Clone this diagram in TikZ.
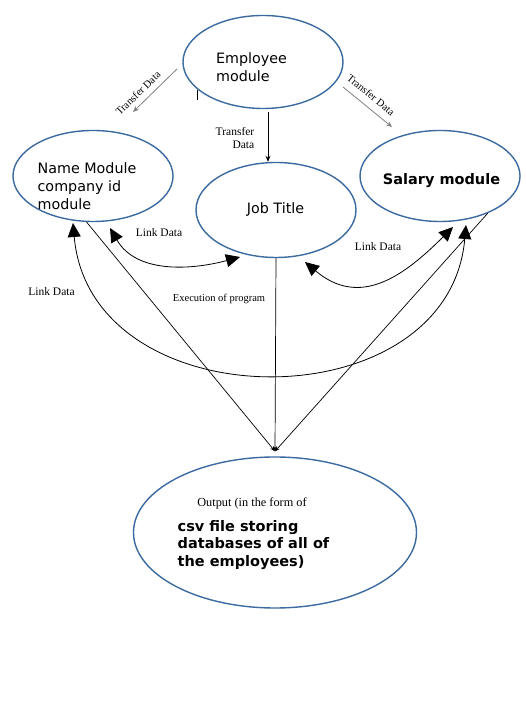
\documentclass[tikz,border=0pt]{standalone}
\usepackage{fontspec}
\setmainfont{Liberation Serif}
\setsansfont{DejaVu Sans}
\usepackage{xcolor}
\definecolor{ovalblue}{HTML}{3B6AA0}
\definecolor{arrowgray}{HTML}{808080}
\usepackage{tikz}
\usetikzlibrary{arrows.meta, shapes.geometric, calc}

\tikzset{
	module/.style={ellipse, draw=ovalblue, line width=1.4pt, inner sep=0pt},
	modtext/.style={font=\sffamily\fontsize{14.3}{18.3}\selectfont, align=left, inner sep=0pt},
	boldtext/.style={font=\sffamily\bfseries\fontsize{14.5}{17.5}\selectfont, align=left, inner sep=0pt},
	lbl/.style={font=\fontsize{11.5}{13.5}\selectfont, inner sep=0pt},
	smalllbl/.style={font=\fontsize{10.5}{12}\selectfont, inner sep=0pt},
	transfer/.style={-{Stealth[length=6pt,width=5pt]}, line width=0.8pt},
	link/.style={{Triangle[length=14pt,width=13pt]}-{Triangle[length=14pt,width=13pt]}, line width=0.8pt},
	exec/.style={-{Stealth[length=5pt,width=4pt]}, line width=0.7pt}
}

\begin{document}
\begin{tikzpicture}[x=1pt, y=1pt]
	\useasboundingbox (0,0) rectangle (525,715);

	% the five modules
	\node[module, minimum width=160pt, minimum height=93pt] (emp) at (263,653) {};
	\node[module, minimum width=160pt, minimum height=91pt] (name) at (93,539) {};
	\node[module, minimum width=160pt, minimum height=95pt] (job) at (276,505) {};
	\node[module, minimum width=160pt, minimum height=91pt] (sal) at (440,539) {};
	\node[module, minimum width=283pt, minimum height=151pt] (out) at (275,182.5) {};

	\node[modtext] (emptext) at (251.5,648) {Employee\\module};
	\node[modtext] (nametext) at (87,529) {Name Module\\company id\\module};
	\node[modtext] (jobtext) at (275.5,505) {Job Title};
	\node[boldtext] (saltext) at (441.5,534) {Salary module};
	\node[font=\fontsize{12.3}{14}\selectfont, inner sep=0pt] (outhead) at (252,212) {Output (in the form of};
	\node[boldtext] (outtext) at (253.5,170) {csv file storing\\databases of all of\\the employees)};

	% transfer arrows
	\coordinate (t1a) at (177,646);
	\coordinate (t1b) at (133,603);
	\coordinate (t2a) at (268,603);
	\coordinate (t3a) at (343,628);
	\coordinate (t3b) at (392,588);
	\draw[transfer, arrowgray] (t1a) -- (t1b);
	\draw[transfer] (t2a) -- (t2a |- job.north);
	\draw[transfer, arrowgray] (t3a) -- (t3b);
	\draw[line width=0.7pt] (197,625) -- (197,615);

	\node[smalllbl, rotate=44] (tl1) at (138,622) {Transfer Data};
	\node[lbl, align=right] (tl2) at (235,577) {Transfer\\Data};
	\node[smalllbl, rotate=-39] (tl3) at (371,620) {Transfer Data};

	% link arrows
	\coordinate (l1a) at (110,487);
	\coordinate (l1b) at (240,458);
	\coordinate (l2a) at (305,453);
	\coordinate (l2b) at (453,488);
	\coordinate (l3a) at (73,492);
	\coordinate (l3b) at (466,490);
	\draw[link] (l1a) to[out=-60, in=195] (l1b);
	\draw[link] (l2a) to[out=-40, in=225, looseness=1.2] (l2b);
	\draw[link] (l3a) to[out=-85, in=-95, looseness=1.3] (l3b);

	\node[lbl] (ll1) at (159,482) {Link Data};
	\node[lbl] (ll2) at (378,468) {Link Data};
	\node[lbl] (ll3) at (51.5,423) {Link Data};

	% execution of program
	\coordinate (conv) at ($(out.north)+(0,5)$);
	\draw[exec] (name.262) -- (conv);
	\draw[exec] (job.south) -- (conv);
	\draw[exec] (sal.-38) -- (conv);
	\node[smalllbl] (execlbl) at (219,416) {Execution of program};
\end{tikzpicture}
\end{document}
